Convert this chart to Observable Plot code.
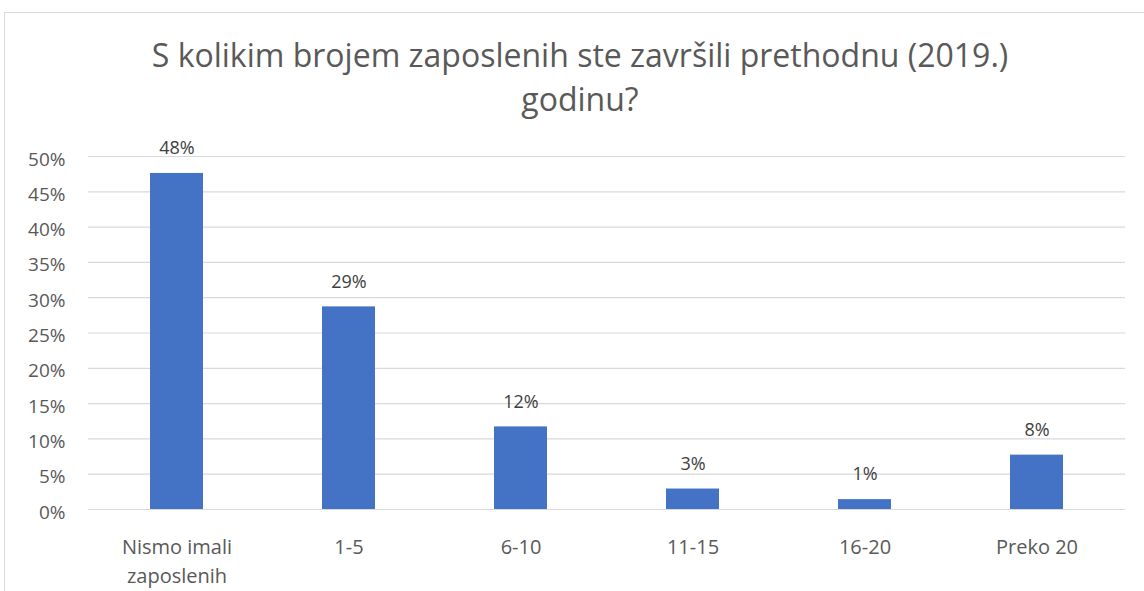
<!DOCTYPE html>
<html>
<head>
<meta charset="utf-8">
<script src="https://cdn.jsdelivr.net/npm/d3@7"></script>
<script src="https://cdn.jsdelivr.net/npm/@observablehq/plot@0.6"></script>
<style>
  html, body { margin: 0; padding: 0; background: #fff; overflow: hidden; }
  #frame { position: absolute; left: 4px; top: 12px; width: 1160px; height: 620px; border: 1px solid #d9d9d9; box-sizing: border-box; }
  #title { position: absolute; left: 8px; top: 0; width: 1144px; height: 140px; text-align: center; font-family: "Open Sans", sans-serif; font-size: 32px; color: #595959; line-height: 44px; padding-top: 33px; box-sizing: border-box; white-space: nowrap; }
  #chart { position: absolute; left: 0; top: 140px; }
</style>
</head>
<body>
<div id="frame"></div>
<div id="title">S kolikim brojem zaposlenih ste završili prethodnu (2019.)<br>godinu?</div>
<div id="chart"></div>
<script>
const categories = ["Nismo imali zaposlenih", "1-5", "6-10", "11-15", "16-20", "Preko 20"];
const categoryLabels = ["Nismo imali\nzaposlenih", "1-5", "6-10", "11-15", "16-20", "Preko 20"];
const values = [0.476, 0.287, 0.117, 0.029, 0.014, 0.077];
const yTicks = [0, 0.05, 0.10, 0.15, 0.20, 0.25, 0.30, 0.35, 0.40, 0.45, 0.50];

const data = categories.map((c, i) => ({category: c, value: values[i]}));
const labelOf = new Map(categories.map((c, i) => [c, categoryLabels[i]]));
const pct = d3.format(".0%");

const chart = Plot.plot({
  width: 1144,
  height: 451,
  marginTop: 16,
  marginBottom: 82,
  marginLeft: 88,
  marginRight: 19,
  style: { fontFamily: "'Open Sans', sans-serif", color: "#595959", background: "transparent", overflow: "visible" },
  x: { domain: categories, paddingInner: 0.69, paddingOuter: 0.345, label: null },
  y: { domain: [0, 0.5], label: null },
  marks: [
    Plot.ruleY(yTicks, { stroke: "#d9d9d9", strokeWidth: 1.2 }),
    Plot.barY(data, { x: "category", y: "value", fill: "#4472C4" }),
    Plot.text(data, { x: "category", y: "value", text: d => pct(d.value), dy: -25, fontSize: 18, fill: "#404040" }),
    Plot.axisY({ ticks: yTicks, tickFormat: pct, tickSize: 0, tickPadding: 23, dy: 3, fontSize: 19, fill: "#595959" }),
    Plot.axisX({ tickSize: 0, tickPadding: 24, fontSize: 20, fill: "#595959", tickFormat: c => labelOf.get(c), lineHeight: 1.45 })
  ]
});
document.getElementById("chart").appendChild(chart);
</script>
</body>
</html>
